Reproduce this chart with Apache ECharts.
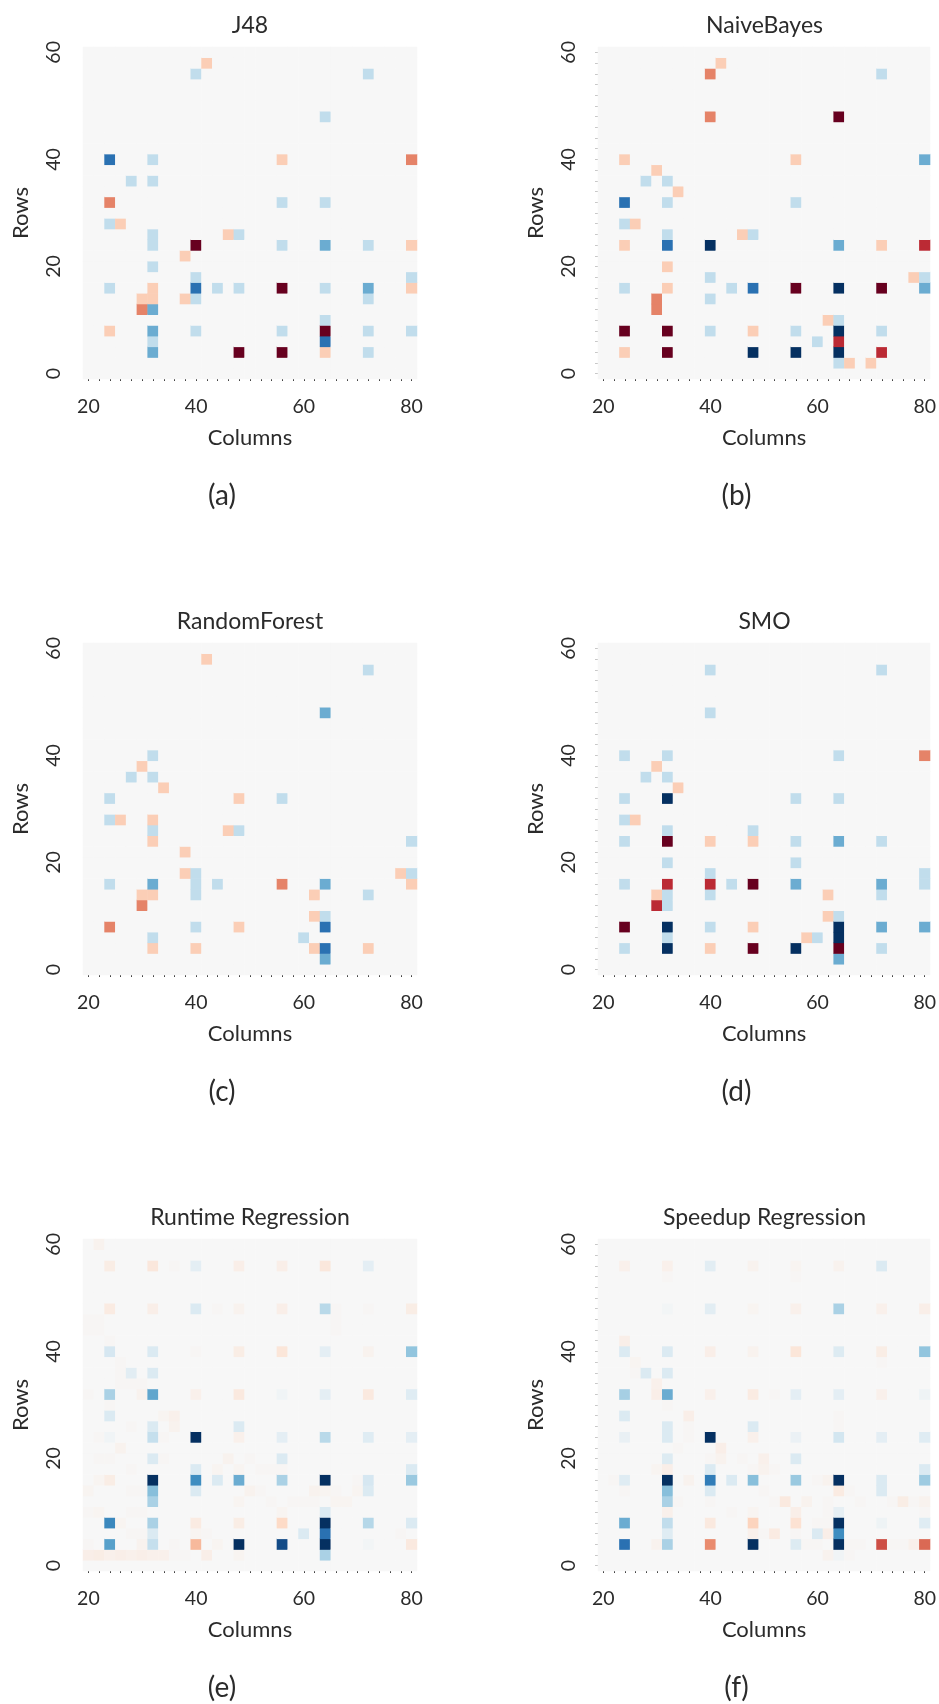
<!DOCTYPE html>
<html>
<head>
<meta charset="utf-8">
<script src="https://cdn.jsdelivr.net/npm/echarts@6/dist/echarts.min.js"></script>
<style>
  html, body { margin: 0; padding: 0; background: #ffffff; }
  #chart { width: 939px; height: 1704px; }
</style>
</head>
<body>
<div id="chart"></div>
<script>
// ---------- categories / tick labels ----------
const colCats = ['20','22','24','26','28','30','32','34','36','38','40','42','44','46','48','50',
                 '52','54','56','58','60','62','64','66','68','70','72','74','76','78','80'];
const rowCats = ['0','2','4','6','8','10','12','14','16','18','20','22','24','26','28','30',
                 '32','34','36','38','40','42','44','46','48','50','52','54','56','58','60'];

const panelTitles = ['J48', 'NaiveBayes', 'RandomForest', 'SMO', 'Runtime Regression', 'Speedup Regression'];
const panelCaptions = ['(a)', '(b)', '(c)', '(d)', '(e)', '(f)'];

// ---------- cell values: [column, row, value]; unlisted cells are 0 ----------
const cellsJ48 = [
 [42,58,1],[40,56,-1],[72,56,-1],[64,48,-1],
 [24,40,-3],[32,40,-1],[56,40,1],[80,40,2],
 [28,36,-1],[32,36,-1],
 [24,32,2],[56,32,-1],[64,32,-1],
 [24,28,-1],[26,28,1],
 [32,26,-1],[46,26,1],[48,26,-1],
 [32,24,-1],[40,24,4],[56,24,-1],[64,24,-2],[72,24,-1],[80,24,1],
 [38,22,1],
 [32,20,-1],
 [40,18,-1],[80,18,-1],
 [24,16,-1],[32,16,1],[40,16,-3],[44,16,-1],[48,16,-1],[56,16,4],[64,16,-1],[72,16,-2],[80,16,1],
 [30,14,1],[32,14,1],[38,14,1],[40,14,-1],[72,14,-1],
 [30,12,2],[32,12,-2],
 [64,10,-1],
 [24,8,1],[32,8,-2],[40,8,-1],[56,8,-1],[64,8,4],[72,8,-1],[80,8,-1],
 [32,6,-1],[64,6,-3],
 [32,4,-2],[48,4,4],[56,4,4],[64,4,1],[72,4,-1]
];

const cellsNaiveBayes = [
 [42,58,1],[40,56,2],[72,56,-1],
 [40,48,2],[64,48,4],
 [24,40,1],[56,40,1],[80,40,-2],
 [30,38,1],
 [28,36,-1],[32,36,-1],
 [34,34,1],
 [24,32,-3],[32,32,-1],[56,32,-1],
 [24,28,-1],[26,28,1],
 [32,26,-1],[46,26,1],[48,26,-1],
 [24,24,1],[32,24,-3],[40,24,-4],[64,24,-2],[72,24,1],[80,24,3],
 [32,20,1],
 [40,18,-1],[78,18,1],[80,18,-1],
 [24,16,-1],[32,16,1],[44,16,-1],[48,16,-3],[56,16,4],[64,16,-4],[72,16,4],[80,16,-2],
 [30,14,2],[40,14,-1],
 [30,12,2],
 [62,10,1],[64,10,-1],
 [24,8,4],[32,8,4],[40,8,-1],[48,8,1],[56,8,-1],[64,8,-4],[72,8,-1],
 [60,6,-1],[64,6,3],
 [24,4,1],[32,4,4],[48,4,-4],[56,4,-4],[64,4,-4],[72,4,3],
 [64,2,-1],[66,2,1],[70,2,1]
];

const cellsRandomForest = [
 [42,58,1],[72,56,-1],[64,48,-2],
 [32,40,-1],[30,38,1],[28,36,-1],[32,36,-1],[34,34,1],
 [24,32,-1],[48,32,1],[56,32,-1],
 [24,28,-1],[26,28,1],[32,28,1],
 [32,26,-1],[46,26,1],[48,26,-1],
 [32,24,1],[80,24,-1],
 [38,22,1],
 [38,18,1],[40,18,-1],[78,18,1],[80,18,-1],
 [24,16,-1],[32,16,-2],[40,16,-1],[44,16,-1],[56,16,2],[64,16,-2],[80,16,1],
 [30,14,1],[32,14,1],[40,14,-1],[62,14,1],[72,14,-1],
 [30,12,2],
 [62,10,1],[64,10,-1],
 [24,8,2],[40,8,-1],[48,8,1],[64,8,-3],
 [32,6,-1],[60,6,-1],
 [32,4,1],[40,4,1],[62,4,1],[64,4,-3],[72,4,1],
 [64,2,-2]
];

const cellsSMO = [
 [40,56,-1],[72,56,-1],[40,48,-1],
 [24,40,-1],[32,40,-1],[64,40,-1],[80,40,2],
 [30,38,1],[28,36,-1],[32,36,-1],[34,34,1],
 [24,32,-1],[32,32,-4],[56,32,-1],[64,32,-1],
 [24,28,-1],[26,28,1],
 [32,26,-1],[48,26,-1],
 [24,24,-1],[32,24,4],[40,24,1],[48,24,1],[56,24,-1],[64,24,-2],[72,24,-1],
 [32,20,-1],[56,20,-1],
 [40,18,-1],[80,18,-1],
 [24,16,-1],[32,16,3],[40,16,3],[44,16,-1],[48,16,4],[56,16,-2],[72,16,-2],[80,16,-1],
 [30,14,1],[32,14,-1],[40,14,-1],[62,14,1],[72,14,-1],
 [30,12,3],[32,12,-1],
 [62,10,1],[64,10,-1],
 [24,8,4],[32,8,-4],[40,8,-1],[48,8,1],[64,8,-4],[72,8,-2],[80,8,-2],
 [32,6,-1],[58,6,1],[60,6,-1],[64,6,-4],
 [24,4,-1],[32,4,-4],[40,4,1],[48,4,4],[56,4,-4],[64,4,4],[72,4,-1],
 [64,2,-2]
];

const cellsRuntime = [
 [22,60,0.15],
 [24,56,0.3],[32,56,0.45],[36,56,0.05],[40,56,-0.4],[48,56,0.25],[56,56,0.25],[64,56,0.45],[72,56,-0.4],
 [24,48,0.35],[32,48,0.25],[40,48,-0.6],[44,48,0.05],[48,48,0.15],[56,48,0.25],[64,48,-1.1],[66,48,0.05],[72,48,0.05],[80,48,0.3],
 [20,46,0.05],[22,46,0.05],[66,46,0.05],
 [20,44,0.05],[22,44,0.05],[66,44,0.05],
 [24,42,0.05],
 [24,40,-0.7],[32,40,-0.6],[40,40,0.05],[48,40,0.3],[56,40,0.5],[64,40,-0.4],[72,40,0.15],[80,40,-1.6],
 [26,38,0.05],
 [26,36,0.05],[28,36,-0.45],[32,36,-0.6],
 [26,34,0.05],[28,34,0.05],[30,34,0.05],
 [20,32,0.05],[24,32,-1.3],[30,32,0.15],[32,32,-2.1],[40,32,0.2],[48,32,0.4],[56,32,-0.15],[64,32,-0.4],[72,32,0.4],[80,32,-0.5],
 [24,30,0.05],
 [24,28,-0.6],[34,28,0.1],[36,28,0.2],
 [28,26,0.05],[32,26,-0.6],[36,26,0.15],[48,26,-0.6],
 [22,24,0.05],[24,24,-0.15],[32,24,-0.95],[34,24,0.05],[40,24,-4],[48,24,0.2],[56,24,-0.4],[64,24,-1.1],[72,24,-0.5],[80,24,-0.4],
 [26,22,0.15],
 [22,20,0.05],[24,20,0.05],[32,20,-0.6],[34,20,0.05],[46,20,0.15],[50,20,0.05],[56,20,-0.6],
 [28,18,0.05],[40,18,-0.6],[44,18,0.1],[48,18,0.1],[52,18,0.05],[54,18,0.05],[56,18,0.05],[80,18,-0.6],
 [22,16,0.1],[24,16,0.3],[32,16,-4],[40,16,-2.5],[44,16,-0.6],[48,16,-2.0],[56,16,-1.3],[64,16,-4],[70,16,0.05],[72,16,-0.7],[80,16,-1.5],
 [20,14,0.1],[28,14,0.05],[30,14,0.05],[32,14,-1.7],[40,14,-0.6],[50,14,0.15],[52,14,0.05],[62,14,0.15],[64,14,0.1],[66,14,0.05],[70,14,0.1],[72,14,-0.6],
 [32,12,-1.3],[48,12,0.1],[54,12,0.05],[58,12,0.05],[60,12,0.05],[62,12,0.05],[66,12,0.1],[68,12,0.1],
 [20,10,0.05],[22,10,0.1],[28,10,0.05],[30,10,0.05],[56,10,0.1],[64,10,-0.6],
 [24,8,-2.6],[26,8,0.1],[32,8,-1.3],[40,8,0.35],[48,8,0.3],[56,8,0.8],[64,8,-4],[72,8,-1.15],[80,8,-0.6],
 [28,6,0.05],[30,6,0.05],[32,6,-0.6],[40,6,0.1],[42,6,0.05],[60,6,-0.6],[64,6,-3],[78,6,0.05],
 [20,4,0.05],[24,4,-2.2],[30,4,0.15],[32,4,-0.95],[36,4,0.05],[40,4,1.3],[44,4,0.1],[48,4,-4],[56,4,-3.6],[64,4,-4],[72,4,-0.1],[80,4,0.4],
 [20,2,0.25],[22,2,0.3],[24,2,0.2],[26,2,0.25],[28,2,0.2],[30,2,0.25],[32,2,0.2],[34,2,0.2],[36,2,0.05],[38,2,0.05],[42,2,0.25],[48,2,0.1],[64,2,-1.3]
];

const cellsSpeedup = [
 [24,56,0.2],[32,56,0.2],[40,56,-0.45],[48,56,0.15],[56,56,0.1],[64,56,0.15],[72,56,-0.6],
 [32,54,0.05],[56,54,0.05],
 [32,48,-0.1],[40,48,-0.45],[48,48,0.1],[56,48,0.2],[64,48,-1.3],[72,48,0.2],[80,48,0.25],
 [24,42,0.25],
 [24,40,-0.6],[32,40,-0.6],[40,40,0.25],[48,40,0.15],[56,40,0.5],[64,40,-0.55],[72,40,0.3],[80,40,-1.6],
 [26,38,0.1],[72,38,0.05],
 [26,36,0.05],[28,36,-0.6],[32,36,-0.6],
 [30,34,0.2],
 [24,32,-1.35],[30,32,0.25],[32,32,-2.0],[40,32,0.2],[48,32,0.35],[52,32,0.05],[56,32,-0.4],[64,32,-0.4],[72,32,0.2],[80,32,-0.2],
 [32,30,0.05],
 [24,28,-0.6],[36,28,0.25],[64,28,0.05],
 [32,26,-0.6],[36,26,0.05],[48,26,-0.6],[64,26,0.05],
 [24,24,-0.3],[32,24,-0.6],[36,24,0.05],[40,24,-4],[48,24,0.2],[56,24,-0.25],[64,24,-0.75],[72,24,-0.4],[80,24,-0.5],
 [34,22,0.05],[42,22,0.25],
 [32,20,-0.55],[40,20,0.05],[42,20,0.15],[46,20,0.05],[50,20,0.2],[56,20,-0.6],
 [30,18,0.1],[32,18,0.25],[40,18,-0.6],[48,18,0.05],[50,18,0.15],[52,18,0.05],[80,18,-0.6],
 [22,16,0.05],[24,16,-0.5],[32,16,-4],[36,16,0.15],[40,16,-2.8],[44,16,-0.6],[48,16,-1.7],[56,16,-1.5],[60,16,0.05],[62,16,0.15],[64,16,-4],[72,16,-0.6],[80,16,-1.45],
 [24,14,0.05],[32,14,-1.7],[40,14,-0.6],[50,14,0.05],[64,14,0.35],[66,14,0.05],[72,14,-0.6],
 [32,12,-1.3],[34,12,0.05],[40,12,0.05],[52,12,0.05],[54,12,0.4],[58,12,0.15],[62,12,0.05],[68,12,0.05],[74,12,0.05],[76,12,0.3],[78,12,0.05],[80,12,0.15],
 [32,10,0.2],[44,10,0.05],[48,10,0.1],[56,10,0.25],[62,10,0.05],[64,10,-0.35],[80,10,0.05],
 [24,8,-2.0],[32,8,-1.0],[40,8,0.4],[48,8,0.9],[56,8,0.6],[60,8,0.05],[62,8,0.05],[64,8,-4],[72,8,-0.2],[80,8,-0.5],
 [32,6,-0.5],[48,6,0.2],[50,6,0.05],[52,6,0.35],[56,6,0.05],[60,6,-0.6],[62,6,0.25],[64,6,-2.5],
 [24,4,-3],[30,4,0.15],[32,4,-1.3],[40,4,1.9],[48,4,-4],[56,4,-0.55],[58,4,0.05],[60,4,0.05],[64,4,-4],[66,4,0.05],[68,4,0.05],[72,4,2.6],[74,4,0.05],[76,4,0.05],[78,4,0.2],[80,4,2.3],
 [62,2,0.15],[64,2,-0.15],[66,2,0.05]
];

const panelCells = [cellsJ48, cellsNaiveBayes, cellsRandomForest, cellsSMO, cellsRuntime, cellsSpeedup];

// RdBu_r colormap
const rdbuR = ['#053061','#2166ac','#4393c3','#92c5de','#d1e5f0','#f7f7f7',
               '#fddbc7','#f4a582','#d6604d','#b2182b','#67001f'];

// ---------- build option ----------
const FONT = 'Lato';
const TXT = '#2b2b2b';
const gridLefts = [83, 598];
const gridTops = [47, 643, 1239];
const gridW = [334, 333];
const gridH = 332;

function fullMatrix(cells) {
  const m = {};
  cells.forEach(c => { m[c[0] + '_' + c[1]] = c[2]; });
  const out = [];
  for (let xi = 0; xi < colCats.length; xi++) {
    for (let yi = 0; yi < rowCats.length; yi++) {
      const key = colCats[xi] + '_' + rowCats[yi];
      out.push([xi, yi, m[key] !== undefined ? m[key] : 0]);
    }
  }
  return out;
}

const grids = [], xAxes = [], yAxes = [], series = [], graphics = [];
for (let i = 0; i < 6; i++) {
  const pc = i % 2, pr = Math.floor(i / 2);
  const left = gridLefts[pc], top = gridTops[pr], w = gridW[pc];
  grids.push({ left: left, top: top, width: w, height: gridH, containLabel: false });
  xAxes.push({
    gridIndex: i, type: 'category', data: colCats,
    axisLine: { show: false },
    axisTick: { show: true, alignWithLabel: true, interval: 0, length: 2,
                lineStyle: { color: '#444', width: 1 } },
    axisLabel: { interval: 9, margin: 18, fontSize: 19.5, color: TXT, fontFamily: FONT },
    splitLine: { show: false },
    name: 'Columns', nameLocation: 'middle', nameGap: 48,
    nameTextStyle: { fontSize: 22, color: TXT, fontFamily: FONT }
  });
  yAxes.push({
    gridIndex: i, type: 'category', data: rowCats,
    axisLine: { show: false },
    axisTick: { show: pc === 1, alignWithLabel: true, interval: 0, length: 3, inside: false,
                lineStyle: { color: '#c8c8c8', width: 1 } },
    axisLabel: { interval: 9, rotate: 90, margin: 19, fontSize: 19.5, color: TXT, fontFamily: FONT },
    splitLine: { show: false },
    name: 'Rows', nameLocation: 'middle', nameGap: 51, nameRotate: 90,
    nameTextStyle: { fontSize: 22, color: TXT, fontFamily: FONT }
  });
  series.push({
    type: 'heatmap', xAxisIndex: i, yAxisIndex: i,
    data: fullMatrix(panelCells[i]),
    itemStyle: { borderWidth: 0 },
    emphasis: { disabled: true },
    progressive: 0, animation: false
  });
  const cx = left + w / 2;
  graphics.push({
    type: 'text', x: cx, y: top - 21,
    style: { text: panelTitles[i], fontSize: 23, fontFamily: FONT, fill: TXT,
             align: 'center', verticalAlign: 'middle', textAlign: 'center', textVerticalAlign: 'middle' }
  });
  graphics.push({
    type: 'text', x: cx - 28, y: top + gridH + 117,
    style: { text: panelCaptions[i], fontSize: 28, fontFamily: FONT, fill: TXT,
             align: 'center', verticalAlign: 'middle', textAlign: 'center', textVerticalAlign: 'middle' }
  });
}

const option = {
  backgroundColor: '#ffffff',
  animation: false,
  grid: grids,
  xAxis: xAxes,
  yAxis: yAxes,
  visualMap: {
    type: 'continuous', show: false, min: -4, max: 4,
    seriesIndex: [0, 1, 2, 3, 4, 5],
    inRange: { color: rdbuR }
  },
  series: series,
  graphic: graphics
};

const chart = echarts.init(document.getElementById('chart'), null, { renderer: 'canvas' });
chart.setOption(option);
</script>
</body>
</html>
